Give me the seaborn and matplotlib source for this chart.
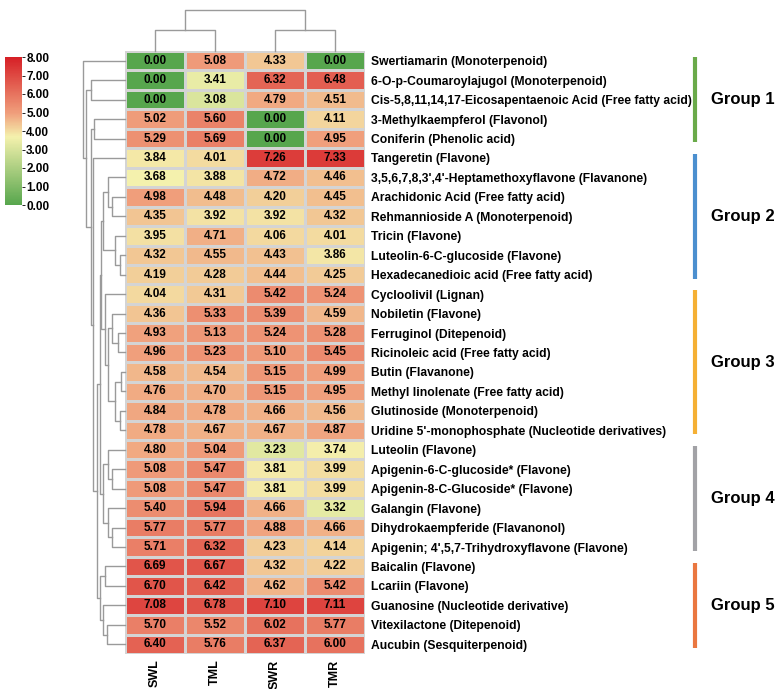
import numpy as np
import pandas as pd
import matplotlib
matplotlib.use("Agg")
import matplotlib.pyplot as plt
import seaborn as sns
from matplotlib.colors import LinearSegmentedColormap

# ---- data ----
compounds = [
    "Swertiamarin (Monoterpenoid)",
    "6-O-p-Coumaroylajugol (Monoterpenoid)",
    "Cis-5,8,11,14,17-Eicosapentaenoic Acid (Free fatty acid)",
    "3-Methylkaempferol (Flavonol)",
    "Coniferin (Phenolic acid)",
    "Tangeretin (Flavone)",
    "3,5,6,7,8,3',4'-Heptamethoxyflavone (Flavanone)",
    "Arachidonic Acid (Free fatty acid)",
    "Rehmannioside A (Monoterpenoid)",
    "Tricin (Flavone)",
    "Luteolin-6-C-glucoside (Flavone)",
    "Hexadecanedioic acid (Free fatty acid)",
    "Cycloolivil (Lignan)",
    "Nobiletin (Flavone)",
    "Ferruginol (Ditepenoid)",
    "Ricinoleic acid (Free fatty acid)",
    "Butin (Flavanone)",
    "Methyl linolenate (Free fatty acid)",
    "Glutinoside (Monoterpenoid)",
    "Uridine 5'-monophosphate (Nucleotide derivatives)",
    "Luteolin (Flavone)",
    "Apigenin-6-C-glucoside* (Flavone)",
    "Apigenin-8-C-Glucoside* (Flavone)",
    "Galangin (Flavone)",
    "Dihydrokaempferide (Flavanonol)",
    "Apigenin; 4',5,7-Trihydroxyflavone (Flavone)",
    "Baicalin (Flavone)",
    "Lcariin (Flavone)",
    "Guanosine (Nucleotide derivative)",
    "Vitexilactone (Ditepenoid)",
    "Aucubin (Sesquiterpenoid)",
]
samples = ["SWL", "TML", "SWR", "TMR"]
swl = [0.00, 0.00, 0.00, 5.02, 5.29, 3.84, 3.68, 4.98, 4.35, 3.95, 4.32, 4.19, 4.04, 4.36, 4.93, 4.96,
       4.58, 4.76, 4.84, 4.78, 4.80, 5.08, 5.08, 5.40, 5.77, 5.71, 6.69, 6.70, 7.08, 5.70, 6.40]
tml = [5.08, 3.41, 3.08, 5.60, 5.69, 4.01, 3.88, 4.48, 3.92, 4.71, 4.55, 4.28, 4.31, 5.33, 5.13, 5.23,
       4.54, 4.70, 4.78, 4.67, 5.04, 5.47, 5.47, 5.94, 5.77, 6.32, 6.67, 6.42, 6.78, 5.52, 5.76]
swr = [4.33, 6.32, 4.79, 0.00, 0.00, 7.26, 4.72, 4.20, 3.92, 4.06, 4.43, 4.44, 5.42, 5.39, 5.24, 5.10,
       5.15, 5.15, 4.66, 4.67, 3.23, 3.81, 3.81, 4.66, 4.88, 4.23, 4.32, 4.62, 7.10, 6.02, 6.37]
tmr = [0.00, 6.48, 4.51, 4.11, 4.95, 7.33, 4.46, 4.45, 4.32, 4.01, 3.86, 4.25, 5.24, 4.59, 5.28, 5.45,
       4.99, 4.95, 4.56, 4.87, 3.74, 3.99, 3.99, 3.32, 4.66, 4.14, 4.22, 5.42, 7.11, 5.77, 6.00]

# dendrogram topology: (height, left, right), leaves = row index
grp2_tree = (0.52, (0.40, 6, (0.32, 7, 8)), (0.24, 9, (0.12, 10, 11)))
grp3_tree = (0.48, 12, (0.40, (0.31, 13, (0.17, 14, 15)), (0.24, (0.10, 16, 17), (0.12, 18, 19))))
grp4_tree = (0.52, (0.40, 20, (0.31, 21, 22)), (0.40, 23, (0.31, 24, 25)))
grp5_tree = (0.59, (0.48, 26, 27), (0.52, 28, (0.43, 29, 30)))
row_tree = (1.00, 0,
            (0.93, (0.81, 1, 2),
             (0.82, (0.73, 3, 4),
              (0.755, 5,
               (0.67, (0.595, (0.56, grp2_tree, grp3_tree), grp4_tree), grp5_tree)))))
col_tree = (1.00, (0.51, 0, 1), (0.51, 2, 3))

groups = ["Group 1", "Group 2", "Group 3", "Group 4", "Group 5"]
group_start = [0, 5, 12, 20, 26]
group_end = [5, 12, 20, 26, 31]
group_colors = ["#6aaa4a", "#4b8fcf", "#f5b034", "#a2a2a6", "#ea7740"]

df = pd.DataFrame({"SWL": swl, "TML": tml, "SWR": swr, "TMR": tmr}, index=compounds)

plt.rcParams['font.family'] = ['Liberation Sans', 'DejaVu Sans']
plt.rcParams['font.weight'] = 'bold'

cmap = LinearSegmentedColormap.from_list(
    "gyr", [(0.0, "#57a64d"), (0.46, "#f4f1ad"), (0.62, "#f09f7c"), (1.0, "#d61f26")])

fig = plt.figure(figsize=(7.75, 6.89), dpi=100)
W, H = 775.0, 689.0
def box(x0, y0, x1, y1):
    return [x0 / W, 1 - y1 / H, (x1 - x0) / W, (y1 - y0) / H]

ax = fig.add_axes(box(125, 51, 365, 654))
cax = fig.add_axes(box(5, 57, 22, 205))
rax = fig.add_axes(box(83, 51, 125, 654))
cdax = fig.add_axes(box(125, 10, 365, 51))
gax = fig.add_axes(box(680, 51, 775, 654))

sns.heatmap(df, ax=ax, cbar_ax=cax, cmap=cmap, vmin=0, vmax=8,
            annot=True, fmt=".2f",
            annot_kws={"fontsize": 8.5, "fontweight": "bold", "color": "black"},
            linewidths=0.8, linecolor="#d4d4d4")
ax.yaxis.tick_right()
ax.set_yticks(np.arange(len(compounds)) + 0.5)
ax.set_yticklabels(compounds, rotation=0, fontsize=8.7, fontweight="bold")
ax.set_xticklabels(samples, rotation=90, fontsize=9, fontweight="bold")
ax.tick_params(length=0, pad=4)
ax.set_xlabel("")
ax.set_ylabel("")

cbar = ax.collections[0].colorbar
cbar.set_ticks(range(0, 9))
cbar.set_ticklabels([f"{v:.2f}" for v in range(0, 9)])
cbar.ax.tick_params(labelsize=8.5, length=2, width=0.6, pad=1)
for t in cbar.ax.get_yticklabels():
    t.set_fontweight("bold")
cbar.outline.set_visible(False)

line_kw = dict(color="#9a9a9a", lw=1.0, clip_on=False)

def draw_row(node):
    if isinstance(node, int):
        return node + 0.5, 0.0
    h, a, b = node
    ya, ha = draw_row(a)
    yb, hb = draw_row(b)
    rax.plot([ha, h, h, hb], [ya, ya, yb, yb], **line_kw)
    return (ya + yb) / 2, h

def draw_col(node):
    if isinstance(node, int):
        return node + 0.5, 0.0
    h, a, b = node
    xa, ha = draw_col(a)
    xb, hb = draw_col(b)
    cdax.plot([xa, xa, xb, xb], [ha, h, h, hb], **line_kw)
    return (xa + xb) / 2, h

draw_row(row_tree)
rax.set_xlim(1.0, 0.0)
rax.set_ylim(len(compounds), 0)
rax.axis("off")

draw_col(col_tree)
cdax.set_xlim(0, len(samples))
cdax.set_ylim(0, 1.0)
cdax.axis("off")

# group brackets
gax.set_xlim(0, 1)
gax.set_ylim(len(compounds), 0)
gax.axis("off")
for name, s, e, c in zip(groups, group_start, group_end, group_colors):
    gax.vlines(0.158, s + 0.3, e - 0.3, color=c, lw=3, clip_on=False)
    gax.text(0.33, (s + e) / 2, name, fontsize=12, fontweight="bold", va="center", ha="left")

fig.savefig("out.png", dpi=100)
